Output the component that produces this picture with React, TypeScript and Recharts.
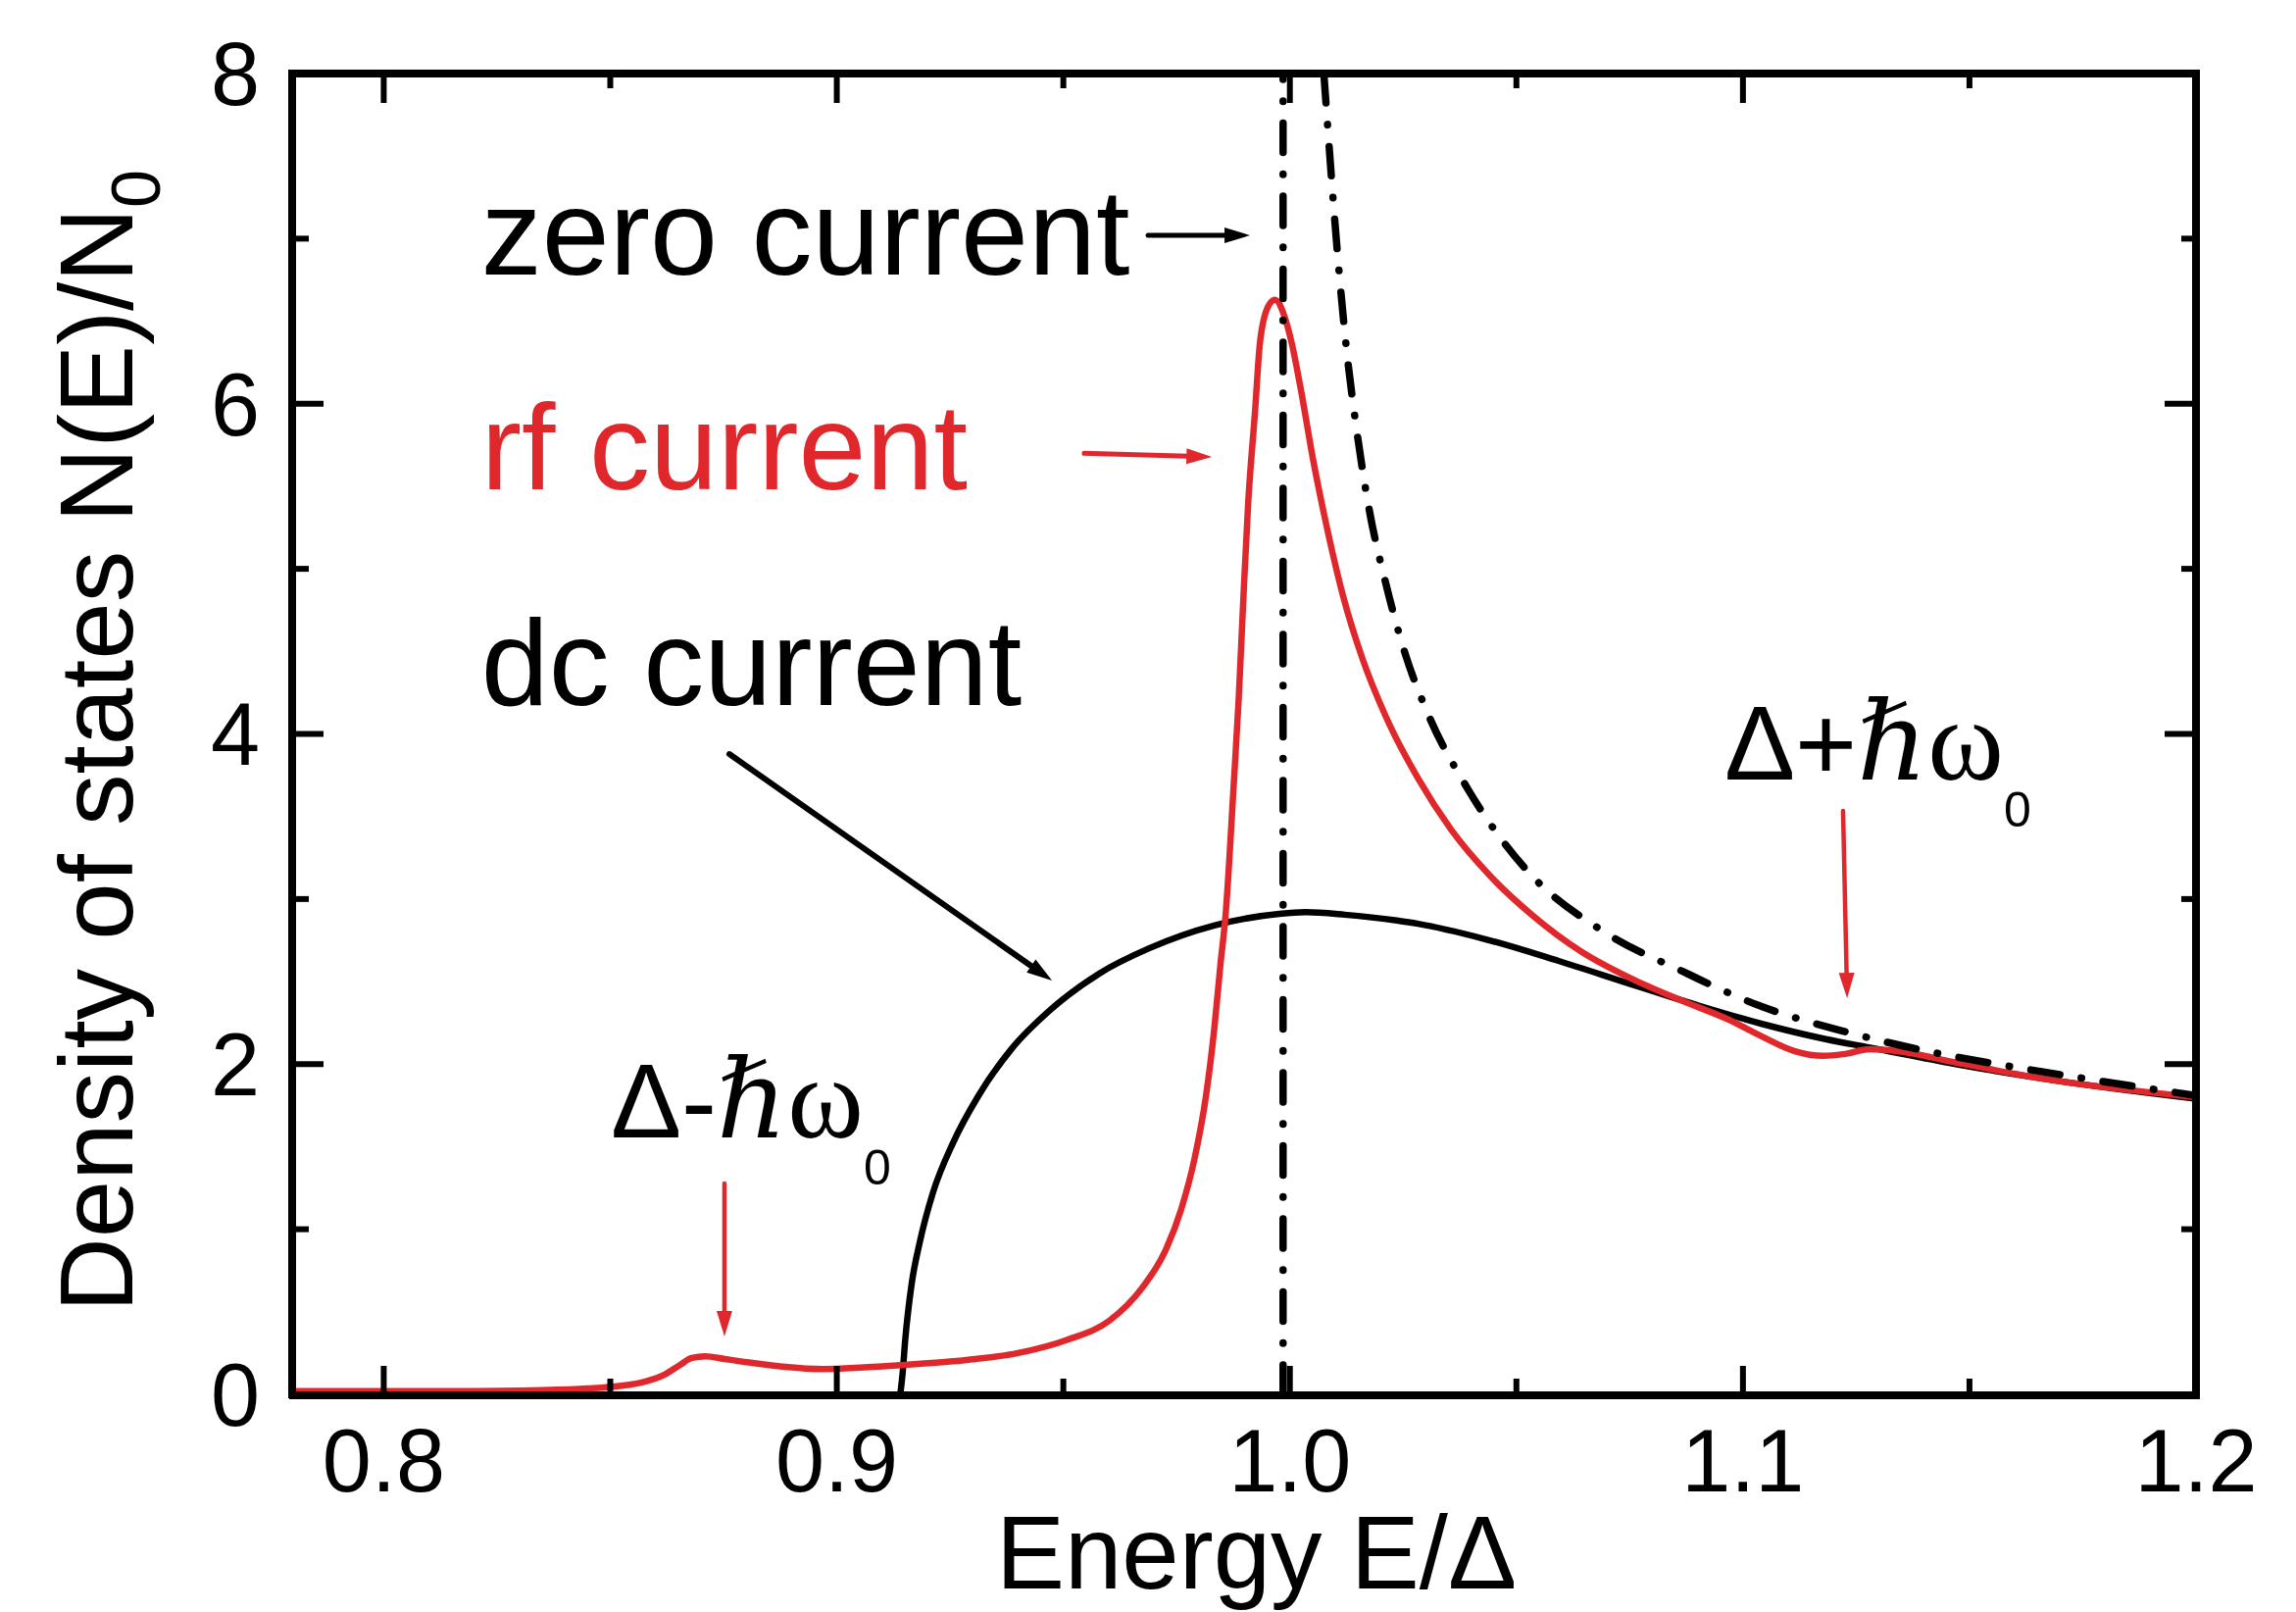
import React from 'react';
import { LineChart, Line, XAxis, YAxis, ReferenceLine, ReferenceDot } from 'recharts';

const RED = '#e0282c';
const FONT = "'Liberation Sans', Arial, sans-serif";
const SERIF = "'Liberation Serif', 'DejaVu Serif', serif";

const xDomain: [number, number] = [0.78, 1.2];
const yDomain: [number, number] = [0, 8];
const xMajorTicks = [0.8, 0.9, 1.0, 1.1, 1.2];
const xMinorTicks = [0.85, 0.95, 1.05, 1.15];
const yMajorTicks = [0, 2, 4, 6, 8];
const yMinorTicks = [1, 3, 5, 7];

// zero current: gap-edge asymptote and decay above the gap
const zeroCurrentEdge = [
  { e: 0.9985, n: 0 },
  { e: 0.9985, n: 8 },
];
const zeroCurrent = [
  { e: 1.0075, n: 8.0 },
  { e: 1.0107, n: 6.85 },
  { e: 1.0125, n: 6.33 },
  { e: 1.0146, n: 5.87 },
  { e: 1.0175, n: 5.36 },
  { e: 1.0211, n: 4.92 },
  { e: 1.0254, n: 4.49 },
  { e: 1.0305, n: 4.12 },
  { e: 1.0392, n: 3.67 },
  { e: 1.0521, n: 3.18 },
  { e: 1.0694, n: 2.8 },
  { e: 1.0868, n: 2.56 },
  { e: 1.104, n: 2.35 },
  { e: 1.1221, n: 2.2 },
  { e: 1.1307, n: 2.14 },
  { e: 1.176, n: 1.91 },
  { e: 1.2, n: 1.81 },
];

const dcCurrent = [
  { e: 0.914, n: 0 },
  { e: 0.9145, n: 0.12 },
  { e: 0.9151, n: 0.33 },
  { e: 0.9165, n: 0.665 },
  { e: 0.9183, n: 0.92 },
  { e: 0.9212, n: 1.22 },
  { e: 0.9256, n: 1.52 },
  { e: 0.9313, n: 1.81 },
  { e: 0.9385, n: 2.09 },
  { e: 0.9472, n: 2.33 },
  { e: 0.958, n: 2.55 },
  { e: 0.9688, n: 2.7 },
  { e: 0.9833, n: 2.84 },
  { e: 0.9977, n: 2.91 },
  { e: 1.0034, n: 2.92 },
  { e: 1.0121, n: 2.905 },
  { e: 1.0236, n: 2.87 },
  { e: 1.0283, n: 2.85 },
  { e: 1.0427, n: 2.76 },
  { e: 1.0593, n: 2.625 },
  { e: 1.0752, n: 2.485 },
  { e: 1.0896, n: 2.36 },
  { e: 1.104, n: 2.245 },
  { e: 1.1185, n: 2.15 },
  { e: 1.128, n: 2.1 },
  { e: 1.147, n: 2.0 },
  { e: 1.1666, n: 1.91 },
  { e: 1.2, n: 1.79 },
];

const rfCurrent = [
  { e: 0.78, n: 0.02 },
  { e: 0.8, n: 0.02 },
  { e: 0.82, n: 0.02 },
  { e: 0.835, n: 0.025 },
  { e: 0.845, n: 0.035 },
  { e: 0.852, n: 0.05 },
  { e: 0.858, n: 0.08 },
  { e: 0.862, n: 0.12 },
  { e: 0.8655, n: 0.18 },
  { e: 0.868, n: 0.22 },
  { e: 0.871, n: 0.23 },
  { e: 0.875, n: 0.215 },
  { e: 0.88, n: 0.195 },
  { e: 0.888, n: 0.168 },
  { e: 0.897, n: 0.153 },
  { e: 0.906, n: 0.163 },
  { e: 0.915, n: 0.178 },
  { e: 0.9256, n: 0.2 },
  { e: 0.94, n: 0.25 },
  { e: 0.9508, n: 0.33 },
  { e: 0.9602, n: 0.447 },
  { e: 0.9674, n: 0.645 },
  { e: 0.9724, n: 0.863 },
  { e: 0.976, n: 1.12 },
  { e: 0.9789, n: 1.42 },
  { e: 0.9815, n: 1.81 },
  { e: 0.9833, n: 2.21 },
  { e: 0.9847, n: 2.61 },
  { e: 0.9858, n: 2.9 },
  { e: 0.9876, n: 3.69 },
  { e: 0.9887, n: 4.21 },
  { e: 0.9897, n: 4.8 },
  { e: 0.9908, n: 5.4 },
  { e: 0.9923, n: 5.95 },
  { e: 0.9934, n: 6.37 },
  { e: 0.9952, n: 6.59 },
  { e: 0.9967, n: 6.63 },
  { e: 0.9988, n: 6.53 },
  { e: 1.0003, n: 6.38 },
  { e: 1.0024, n: 6.09 },
  { e: 1.0052, n: 5.65 },
  { e: 1.0081, n: 5.26 },
  { e: 1.0117, n: 4.84 },
  { e: 1.0161, n: 4.45 },
  { e: 1.0211, n: 4.11 },
  { e: 1.0283, n: 3.73 },
  { e: 1.0356, n: 3.42 },
  { e: 1.0442, n: 3.14 },
  { e: 1.0536, n: 2.9 },
  { e: 1.0644, n: 2.68 },
  { e: 1.0752, n: 2.52 },
  { e: 1.086, n: 2.39 },
  { e: 1.0968, n: 2.27 },
  { e: 1.104, n: 2.17 },
  { e: 1.1113, n: 2.08 },
  { e: 1.1178, n: 2.05 },
  { e: 1.1221, n: 2.06 },
  { e: 1.128, n: 2.09 },
  { e: 1.1337, n: 2.08 },
  { e: 1.147, n: 2.01 },
  { e: 1.1666, n: 1.91 },
  { e: 1.2, n: 1.8 },
];

const curveLabels = [
  { text: 'zero current', e: 0.8215, n: 6.782, color: '#000' },
  { text: 'rf current', e: 0.8215, n: 5.482, color: RED },
  { text: 'dc current', e: 0.8215, n: 4.175, color: '#000' },
];

const freqLabels = [
  { sign: '-', e: 0.8501, n: 1.556 },
  { sign: '+', e: 1.0959, n: 3.724 },
];

const arrows = [
  { e1: 0.9687, n1: 7.02, e2: 0.9912, n2: 7.02, color: '#000', w: 5 },
  { e1: 0.9546, n1: 5.7, e2: 0.9828, n2: 5.678, color: RED, w: 5 },
  { e1: 0.8763, n1: 3.878, e2: 0.9475, n2: 2.506, color: '#000', w: 6 },
  { e1: 0.8752, n1: 1.277, e2: 0.8752, n2: 0.35, color: RED, w: 4.5 },
  { e1: 1.1221, n1: 3.534, e2: 1.123, n2: 2.399, color: RED, w: 4.5 },
];

const makeArrow = (color: string, width: number) => (props: any) => {
  const { x1, y1, x2, y2 } = props;
  const dx = x2 - x1;
  const dy = y2 - y1;
  const len = Math.hypot(dx, dy) || 1;
  const ux = dx / len;
  const uy = dy / len;
  const headLen = 26;
  const headHalf = 8;
  const bx = x2 - ux * headLen;
  const by = y2 - uy * headLen;
  const px = -uy * headHalf;
  const py = ux * headHalf;
  return (
    <g>
      <line x1={x1} y1={y1} x2={bx + ux * 2} y2={by + uy * 2} stroke={color} strokeWidth={width} strokeLinecap="round" />
      <polygon points={`${x2},${y2} ${bx + px},${by + py} ${bx - px},${by - py}`} fill={color} />
    </g>
  );
};

const makeCurveLabel = (text: string, color: string) => (props: any) => (
  <text x={props.cx} y={props.cy} fill={color} fontSize={124} fontFamily={FONT}>
    {text}
  </text>
);

const makeFreqLabel = (sign: string) => (props: any) => (
  <text x={props.cx} y={props.cy} fill="#000" fontSize={108} fontFamily={FONT}>
    <tspan>{'\u0394' + sign}</tspan>
    <tspan fontFamily={SERIF} fontStyle="italic" fontSize={112}>{'\u210F'}</tspan>
    <tspan fontFamily={SERIF} fontSize={118}>{'\u03C9'}</tspan>
    <tspan dy={48} fontSize={50} fontFamily={FONT}>0</tspan>
  </text>
);

const yLabel = (props: any) => {
  const vb = props.viewBox || { x: 0, y: 75, width: 299, height: 1347 };
  const cx = 135;
  const cy = vb.y + vb.height / 2 + 7;
  return (
    <text x={cx} y={cy} transform={`rotate(-90, ${cx}, ${cy})`} textAnchor="middle" fontSize={105} fontFamily={FONT} fill="#000">
      Density of states N(E)/N
      <tspan dy={28} fontSize={70}>0</tspan>
    </text>
  );
};

const xLabel = (props: any) => {
  const vb = props.viewBox || { x: 299, y: 1422, width: 1941, height: 222 };
  return (
    <text x={vb.x + vb.width / 2 + 12} y={vb.y + 197} textAnchor="middle" fontSize={105} fontFamily={FONT} fill="#000">
      Energy E/{'\u0394'}
    </text>
  );
};

const frame = { stroke: '#000', strokeWidth: 8, strokeLinecap: 'square' as const };
const tickLine = { stroke: '#000', strokeWidth: 6 };
const tickFont = { fontSize: 90, fill: '#000', fontFamily: FONT };
const noLabel = () => '';
const dashDot = '30 22 0.5 22';

export default function App() {
  return (
    <div style={{ position: 'absolute', left: 0, top: 0, background: '#fff' }}>
      <LineChart
        width={2342}
        height={1644}
        margin={{ top: 73, right: 100, bottom: 0, left: 0 }}
        style={{ fontFamily: FONT }}
      >
        <XAxis
          xAxisId="xb"
          type="number"
          dataKey="e"
          domain={xDomain}
          allowDataOverflow
          ticks={xMajorTicks}
          tickFormatter={(v: number) => v.toFixed(1)}
          tickSize={-30}
          tickMargin={64}
          tick={tickFont}
          tickLine={tickLine}
          axisLine={frame}
          height={221}
          orientation="bottom"
          label={{ content: xLabel }}
        />
        <YAxis
          yAxisId="yl"
          type="number"
          domain={yDomain}
          allowDataOverflow
          ticks={yMajorTicks}
          tickSize={-32}
          tickMargin={65}
          tick={tickFont}
          tickLine={tickLine}
          axisLine={frame}
          width={298}
          orientation="left"
          label={{ content: yLabel }}
        />
        {/* thin companion axes: minor ticks and mirrored top/right frame */}
        <XAxis xAxisId="xa" type="number" dataKey="e" domain={xDomain} allowDataOverflow ticks={xMinorTicks} tickSize={-16} tickFormatter={noLabel} tick={tickFont} tickLine={tickLine} axisLine={false} height={1} orientation="bottom" />
        <XAxis xAxisId="xt" type="number" dataKey="e" domain={xDomain} allowDataOverflow ticks={xMajorTicks} tickSize={-30} tickFormatter={noLabel} tick={tickFont} tickLine={tickLine} axisLine={frame} height={1} orientation="top" />
        <XAxis xAxisId="xu" type="number" dataKey="e" domain={xDomain} allowDataOverflow ticks={xMinorTicks} tickSize={-16} tickFormatter={noLabel} tick={tickFont} tickLine={tickLine} axisLine={false} height={1} orientation="top" />
        <YAxis yAxisId="yk" type="number" domain={yDomain} allowDataOverflow ticks={yMinorTicks} tickSize={-16} tickFormatter={noLabel} tick={tickFont} tickLine={tickLine} axisLine={false} width={1} orientation="left" />
        <YAxis yAxisId="yr" type="number" domain={yDomain} allowDataOverflow ticks={yMajorTicks} tickSize={-32} tickFormatter={noLabel} tick={tickFont} tickLine={tickLine} axisLine={frame} width={1} orientation="right" />
        <YAxis yAxisId="ys" type="number" domain={yDomain} allowDataOverflow ticks={yMinorTicks} tickSize={-16} tickFormatter={noLabel} tick={tickFont} tickLine={tickLine} axisLine={false} width={1} orientation="right" />

        <Line xAxisId="xb" yAxisId="yl" data={dcCurrent} dataKey="n" type="monotone" stroke="#000" strokeWidth={6.5} dot={false} isAnimationActive={false} />
        <Line xAxisId="xb" yAxisId="yl" data={rfCurrent} dataKey="n" type="monotone" stroke={RED} strokeWidth={6.5} dot={false} isAnimationActive={false} />
        <Line xAxisId="xb" yAxisId="yl" data={zeroCurrentEdge} dataKey="n" type="linear" stroke="#000" strokeWidth={7.5} strokeDasharray={dashDot} strokeLinecap="round" dot={false} isAnimationActive={false} />
        <Line xAxisId="xb" yAxisId="yl" data={zeroCurrent} dataKey="n" type="monotone" stroke="#000" strokeWidth={7.5} strokeDasharray={dashDot} strokeLinecap="round" dot={false} isAnimationActive={false} />

        {arrows.map((a, i) => (
          <ReferenceLine
            key={'arrow' + i}
            xAxisId="xb"
            yAxisId="yl"
            segment={[{ x: a.e1, y: a.n1 }, { x: a.e2, y: a.n2 }]}
            ifOverflow="visible"
            shape={makeArrow(a.color, a.w)}
          />
        ))}
        {curveLabels.map((l, i) => (
          <ReferenceDot key={'cl' + i} xAxisId="xb" yAxisId="yl" x={l.e} y={l.n} ifOverflow="visible" shape={makeCurveLabel(l.text, l.color)} />
        ))}
        {freqLabels.map((l, i) => (
          <ReferenceDot key={'fl' + i} xAxisId="xb" yAxisId="yl" x={l.e} y={l.n} ifOverflow="visible" shape={makeFreqLabel(l.sign)} />
        ))}
      </LineChart>
    </div>
  );
}
